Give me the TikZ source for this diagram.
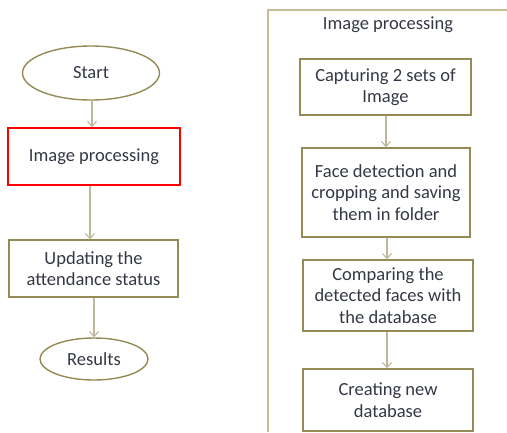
\documentclass[tikz,border=0pt]{standalone}
\usepackage{fontspec}
\setmainfont{Carlito}
\usetikzlibrary{arrows.meta,shapes.geometric}
\definecolor{txt}{HTML}{333844}
\definecolor{bord}{HTML}{948A54}
\definecolor{arr}{HTML}{BDB897}
\definecolor{frame}{HTML}{C4BD97}
\begin{document}
\begin{tikzpicture}[x=1pt,y=-1pt,
  every node/.style={font=\fontsize{18.5}{21.5}\selectfont, text=txt, align=center, inner sep=0pt},
  oval/.style={ellipse, draw=bord, line width=1.4pt},
  boxn/.style={rectangle, draw=bord, line width=1.4pt},
  redbox/.style={rectangle, draw=red, line width=1.6pt},
  conn/.style={draw=arr, line width=1.2pt, -{Straight Barb[length=5pt,width=9pt,line width=1.1pt]}}
]
\useasboundingbox (0,0) rectangle (507,432);
% frame
\draw[frame, line width=1.3pt] (268,432) -- (268,10) -- (507,10);
% left column
\node[oval, minimum width=137pt, minimum height=54pt] (start) at (91,73) {Start};
\node[redbox, minimum width=172pt, minimum height=57pt] (ip) at (94,156.5) {Image processing};
\node[boxn, minimum width=169pt, minimum height=57pt] (upd) at (93.5,268.5) {Updating the\\attendance status};
\node[oval, minimum width=108pt, minimum height=42pt] (res) at (94,359) {Results};
% right column
\node (title) at (388,25) {Image processing};
\node[boxn, minimum width=171pt, minimum height=56pt] (cap) at (385.5,87) {Capturing 2 sets of\\Image};
\node[boxn, minimum width=168pt, minimum height=89pt] (face) at (386,192.5) {Face detection and\\cropping and saving\\them in folder};
\node[boxn, minimum width=170pt, minimum height=71pt] (cmp) at (388,295.5) {Comparing the\\detected faces with\\the database};
\node[boxn, minimum width=170pt, minimum height=62pt] (cre) at (388,400) {Creating new\\database};
% connectors
\draw[conn] (start.south -| 92,0) -- (ip.north -| 92,0);
\draw[conn] (ip.south -| 90,0) -- (upd.north -| 90,0);
\draw[conn] (upd.south -| 94,0) -- (res.north -| 94,0);
\draw[conn] (cap.south -| 386,0) -- (face.north -| 386,0);
\draw[conn] (face.south -| 387,0) -- (cmp.north -| 387,0);
\draw[conn] (cmp.south -| 387,0) -- (cre.north -| 387,0);
\end{tikzpicture}
\end{document}
